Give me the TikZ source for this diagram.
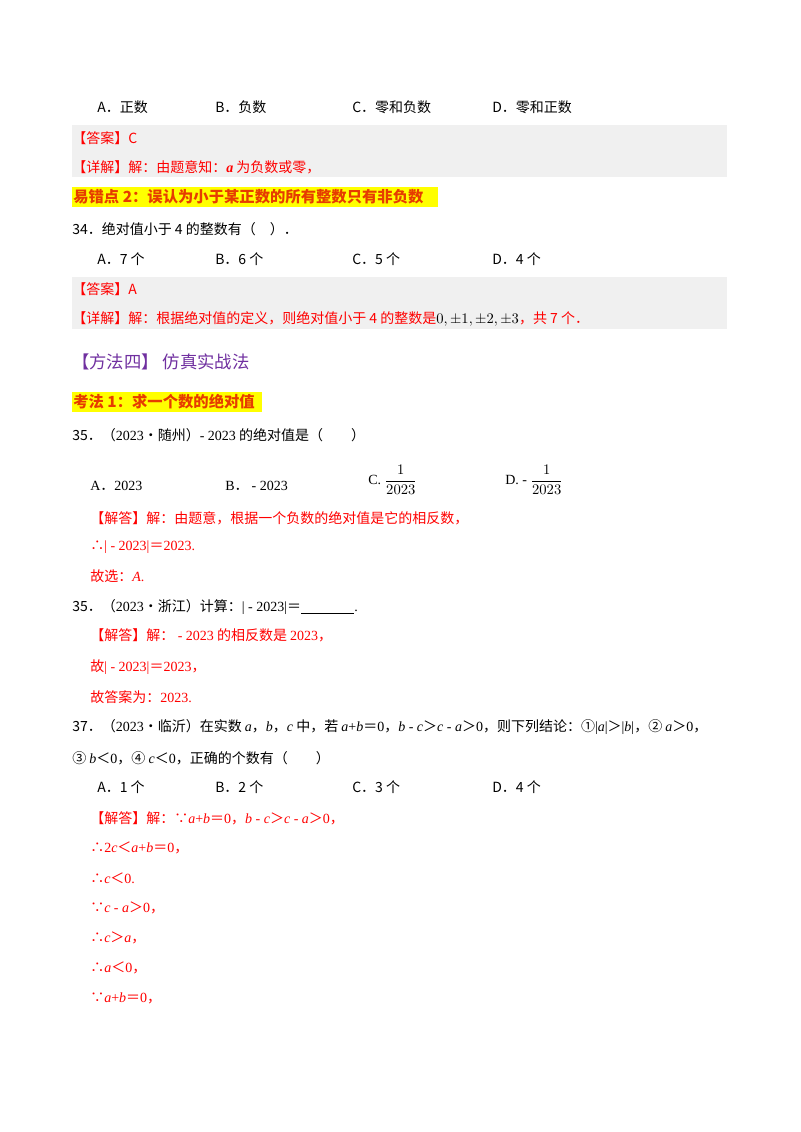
\documentclass[tikz,border=0pt]{standalone}
\usepackage{fontspec}
\setmainfont{Noto Sans CJK SC}
\newfontfamily\tms{Liberation Serif}
\newcommand{\vi}[1]{{\tms\itshape #1}}
\newcommand{\vu}[1]{{\tms #1}}
\definecolor{ansred}{RGB}{255,0,0}
\definecolor{boxgray}{RGB}{240,240,240}
\definecolor{hl}{RGB}{255,255,0}
\definecolor{errc}{RGB}{230,60,0}
\definecolor{meth}{RGB}{112,48,160}
\begin{document}
\begin{tikzpicture}[x=0.75pt,y=-0.75pt,
  t/.style={anchor=west,inner sep=0pt,font=\fontsize{10.5}{12}\selectfont},
  r/.style={t,text=ansred},
  e/.style={t,text=errc,font=\fontsize{11.5}{13}\selectfont\bfseries}]
\useasboundingbox (0,0) rectangle (800,1132);
\fill[white] (0,0) rectangle (800,1132);
\node[t] (a1) at (97,107) {A．正数};
\node[t] (b1) at (215,107) {B．负数};
\node[t] (c1) at (352,107) {C．零和负数};
\node[t] (d1) at (492,107) {D．零和正数};
\fill[boxgray] (72,125) rectangle (727,177);
\node[r] (ans1) at (72,138) {【答案】C};
\node[r] (det1) at (72,167) {【详解】解：由题意知：{\tms\itshape\bfseries a} 为负数或零，};
\fill[hl] (72,187) rectangle (438,207);
\node[e] (err2) at (73,197) {易错点 2：误认为小于某正数的所有整数只有非负数};
\node[t] (q34) at (72,229) {34．绝对值小于 4 的整数有（\quad）．};
\node[t] (a2) at (97,259) {A．7 个};
\node[t] (b2) at (215,259) {B．6 个};
\node[t] (c2) at (352,259) {C．5 个};
\node[t] (d2) at (492,259) {D．4 个};
\fill[boxgray] (72,277) rectangle (727,329);
\node[r] (ans2) at (72,289) {【答案】A};
\node[r] (det2) at (72,319) {【详解】解：根据绝对值的定义，则绝对值小于 4 的整数是{\color{black}\tms$0,\pm1,\pm2,\pm3$}，共 7 个．};
\node[t,text=meth,font=\fontsize{13}{15}\selectfont] (m4) at (72,362) {【方法四】\ 仿真实战法};
\fill[hl] (72,392) rectangle (262,412);
\node[e] (k1) at (73,402) {考法 1：求一个数的绝对值};
\node[t] (q35) at (72,435) {35．（\vu{2023}•随州）\vu{- 2023} 的绝对值是（\qquad）};
\node[t] (a3) at (90,486) {\vu{A}．\vu{2023}};
\node[t] (b3) at (225,486) {\vu{B}．\ \vu{- 2023}};
\node[t,font=\tms\fontsize{10.5}{12}\selectfont] (c3) at (368,480) {C. $\displaystyle\frac{1}{2023}$};
\node[t,font=\tms\fontsize{10.5}{12}\selectfont] (d3) at (505,480) {D. - $\displaystyle\frac{1}{2023}$};
\node[r] (s35) at (90,518) {【解答】解：由题意，根据一个负数的绝对值是它的相反数，};
\node[r] (s35b) at (90,547) {∴\vu{| - 2023|}＝\vu{2023.}};
\node[r] (s35c) at (90,576) {故选：\vi{A}\vu{.}};
\node[t] (q36) at (72,607) {35．（\vu{2023}•浙江）计算：\vu{| - 2023|}＝\vu{\underline{\hspace{40pt}}.}};
\node[r] (s36) at (90,635) {【解答】解：\vu{\ - 2023} 的相反数是 \vu{2023}，};
\node[r] (s36b) at (90,667) {故\vu{| - 2023|}＝\vu{2023}，};
\node[r] (s36c) at (90,697) {故答案为：\vu{2023.}};
\node[t] (q37) at (72,727) {37．（\vu{2023}•临沂）在实数 \vi{a}，\vi{b}，\vi{c} 中，若 \vi{a}\vu{+}\vi{b}＝\vu{0}，\vi{b}\vu{\ - }\vi{c}＞\vi{c}\vu{\ - }\vi{a}＞\vu{0}，则下列结论：①\vu{|}\vi{a}\vu{|}＞\vu{|}\vi{b}\vu{|}，② \vi{a}＞\vu{0}，};
\node[t] (q37b) at (72,758) {③ \vi{b}＜\vu{0}，④ \vi{c}＜\vu{0}，正确的个数有（\qquad）};
\node[t] (a4) at (97,787) {A．1 个};
\node[t] (b4) at (215,787) {B．2 个};
\node[t] (c4) at (352,787) {C．3 个};
\node[t] (d4) at (492,787) {D．4 个};
\node[r] (s37) at (90,818) {【解答】解：∵\vi{a}\vu{+}\vi{b}＝\vu{0}，\vi{b}\vu{\ - }\vi{c}＞\vi{c}\vu{\ - }\vi{a}＞\vu{0}，};
\node[r] (s37b) at (90,848) {∴\vu{2}\vi{c}＜\vi{a}\vu{+}\vi{b}＝\vu{0}，};
\node[r] (s37c) at (90,878) {∴\vi{c}＜\vu{0.}};
\node[r] (s37d) at (90,908) {∵\vi{c}\vu{\ - }\vi{a}＞\vu{0}，};
\node[r] (s37e) at (90,938) {∴\vi{c}＞\vi{a}，};
\node[r] (s37f) at (90,968) {∴\vi{a}＜\vu{0}，};
\node[r] (s37g) at (90,998) {∵\vi{a}\vu{+}\vi{b}＝\vu{0}，};
\end{tikzpicture}
\end{document}
